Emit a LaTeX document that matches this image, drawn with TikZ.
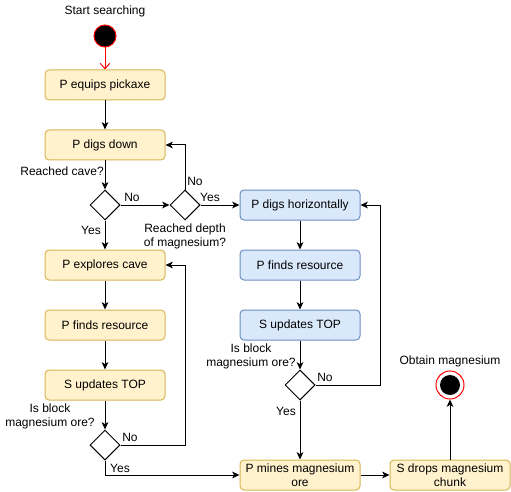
\documentclass[tikz,border=0pt]{standalone}
\usepackage{fontspec}
\setmainfont{Liberation Sans}
\usetikzlibrary{arrows.meta,shapes.geometric}
\definecolor{yfill}{HTML}{FFF2CC}
\definecolor{ydraw}{HTML}{D6B656}
\definecolor{bfill}{HTML}{DAE8FC}
\definecolor{bdraw}{HTML}{6C8EBF}
\begin{document}
\begin{tikzpicture}[x=0.75pt,y=-0.75pt,
  font=\fontsize{9}{10.5}\selectfont,
  every node/.style={inner sep=0pt},
  ybox/.style={draw=ydraw, fill=yfill, rounded corners=3pt, line width=0.75pt,
    minimum width=90pt, minimum height=22.5pt, align=center},
  bbox/.style={ybox, draw=bdraw, fill=bfill},
  dec/.style={draw=black, fill=white, diamond, aspect=1, minimum size=22.5pt, line width=0.75pt},
  arr/.style={line width=0.75pt, -{Stealth[length=5.5pt,width=5pt,inset=1.5pt]}},
  lbl/.style={align=center}]
\useasboundingbox (0,0) rectangle (511,492);
% nodes
\node[circle, fill=black, draw=red, line width=0.75pt, minimum size=16.5pt] (start) at (105,36) {};
\node[lbl] (startlbl) at (105,11) {Start searching};
\node[ybox] (equip) at (105,85) {P equips pickaxe};
\node[ybox] (down) at (105,145) {P digs down};
\node[dec] (d1) at (105,205) {};
\node[dec] (d2) at (185,205) {};
\node[ybox] (explore) at (105,265) {P explores cave};
\node[ybox] (find1) at (105,325) {P finds resource};
\node[ybox] (upd1) at (105,385) {S updates TOP};
\node[dec] (d3) at (105,445) {};
\node[bbox] (horiz) at (300,205) {P digs horizontally};
\node[bbox] (find2) at (300,265) {P finds resource};
\node[bbox] (upd2) at (300,325) {S updates TOP};
\node[dec] (d4) at (300,385) {};
\node[ybox] (mine) at (300,475) {P mines magnesium\\ore};
\node[ybox] (drop) at (450,475) {S drops magnesium\\chunk};
\node[circle, draw=red, fill=white, line width=0.75pt, minimum size=21pt] (end) at (450,385) {};
\node[circle, fill=black, minimum size=15pt] (endin) at (end) {};
\node[lbl] (endlbl) at (450,361) {Obtain magnesium};
% edges
\draw[red, line width=0.75pt, -{Straight Barb[length=4pt,width=7pt]}] (start) -- (equip);
\draw[arr] (equip) -- (down);
\draw[arr] (down) -- (d1);
\draw[arr] (d1) -- (d2);
\draw[arr] (d2.north) |- (down.east);
\draw[arr] (d2) -- (horiz);
\draw[arr] (d1) -- (explore);
\draw[arr] (explore) -- (find1);
\draw[arr] (find1) -- (upd1);
\draw[arr] (upd1) -- (d3);
\draw[arr] (d3.east) -| (d2.center |- explore.east) -- (explore.east);
\draw[arr] (d3.south) |- (mine.west);
\draw[arr] (horiz) -- (find2);
\draw[arr] (find2) -- (upd2);
\draw[arr] (upd2) -- (d4);
\draw[arr] (d4.east) -| ([xshift=15pt]horiz.east) -- (horiz.east);
\draw[arr] (d4) -- (mine);
\draw[arr] (mine) -- (drop);
\draw[arr] (drop) -- (end);
% labels
\node[lbl, anchor=east] (l1) at (104,171) {Reached cave?};
\node[lbl] (l2) at (91,230) {Yes};
\node[lbl] (l3) at (132,197) {No};
\node[lbl] (l4) at (195,181) {No};
\node[lbl] (l5) at (210,197) {Yes};
\node[lbl] (l6) at (185,236) {Reached depth\\of magnesium?};
\node[lbl] (l7) at (50,416) {Is block\\magnesium ore?};
\node[lbl] (l8) at (130,437) {No};
\node[lbl] (l9) at (120,468) {Yes};
\node[lbl] (l10) at (251,356) {Is block\\magnesium ore?};
\node[lbl] (l11) at (325,377) {No};
\node[lbl] (l12) at (286,411) {Yes};
\end{tikzpicture}
\end{document}
